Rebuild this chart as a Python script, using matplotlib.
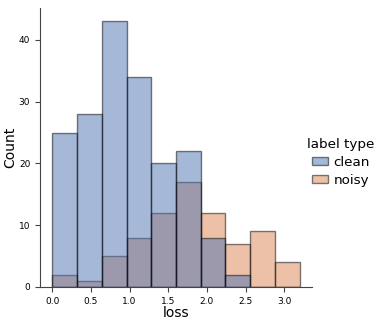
import numpy as np
import pandas as pd
import matplotlib
matplotlib.use("agg")
import matplotlib.pyplot as plt
import seaborn as sns

# histogram bin edges and counts
bin_edges = [0.0, 0.32, 0.64, 0.96, 1.28, 1.60, 1.92, 2.24, 2.56, 2.88, 3.20]
clean_counts = [25, 28, 43, 34, 20, 22, 8, 2, 0, 0]
noisy_counts = [2, 1, 5, 8, 12, 17, 12, 7, 9, 4]
labels = ["clean", "noisy"]

centers = [(a + b) / 2 for a, b in zip(bin_edges[:-1], bin_edges[1:])]
df = pd.DataFrame({
    "loss": centers * 2,
    "count": clean_counts + noisy_counts,
    "label type": [labels[0]] * len(centers) + [labels[1]] * len(centers),
})

plt.rcParams['font.family'] = ['DejaVu Sans']

fig = plt.figure(figsize=(3.82, 3.25), dpi=100)
ax = fig.add_axes([40 / 382, 1 - 287 / 325, (312 - 40) / 382, (287 - 8) / 325])

sns.histplot(data=df, x="loss", weights="count", hue="label type",
             bins=bin_edges, palette="deep", ax=ax,
             edgecolor=(0, 0, 0, 0.5), linewidth=1.0)
sns.despine(ax=ax)
for sp in ax.spines.values():
    sp.set_color("#444444")

ax.set_xticks([0.0, 0.5, 1.0, 1.5, 2.0, 2.5, 3.0])
ax.set_yticks([0, 10, 20, 30, 40])
ax.tick_params(labelsize=6.5, length=3.5, width=0.8, color="#444444")
ax.set_xlabel("loss", fontsize=10, labelpad=0)
ax.set_ylabel("Count", fontsize=10)
ax.yaxis.set_label_coords(-0.085, 0.5)

sns.move_legend(ax, "center left", bbox_to_anchor=(295 / 382, 0.5),
                bbox_transform=fig.transFigure, frameon=False,
                fontsize=9.7, title_fontsize=9.7, handlelength=1.2,
                handleheight=0.5, handletextpad=0.4, labelspacing=0.35)

fig.savefig("out.png", dpi=100)
